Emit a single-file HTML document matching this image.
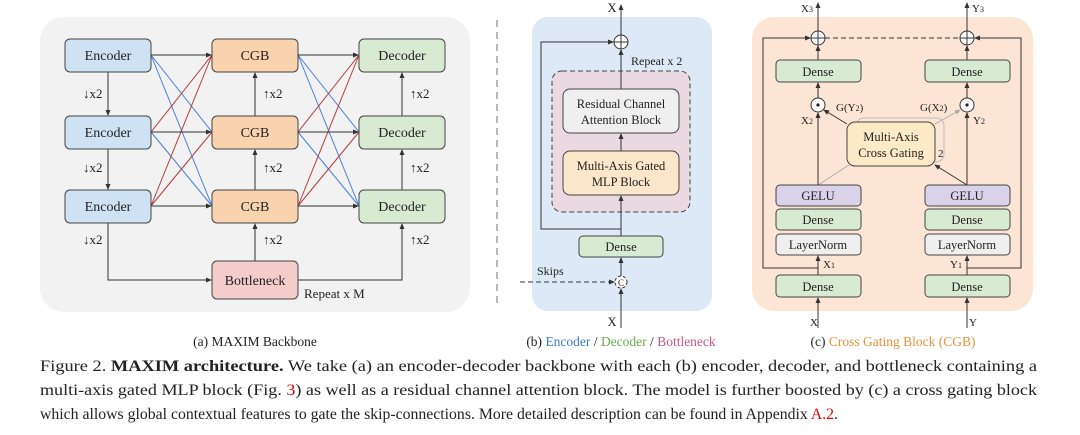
<!DOCTYPE html>
<html><head><meta charset="utf-8"><style>body{margin:0;background:#fff}svg{display:block}text{font-family:"Liberation Serif",serif;fill:#222}</style></head><body>
<svg width="1080" height="435" viewBox="0 0 1080 435" xmlns="http://www.w3.org/2000/svg">
<defs>
<marker id="a" markerWidth="6" markerHeight="6" refX="5" refY="3" orient="auto" markerUnits="userSpaceOnUse"><path d="M0,0.5 L6,3 L0,5.5z" fill="#333"/></marker>
<marker id="g" markerWidth="6" markerHeight="6" refX="5" refY="3" orient="auto" markerUnits="userSpaceOnUse"><path d="M0,0.5 L6,3 L0,5.5z" fill="#aaa"/></marker>
</defs>
<rect x="40" y="17" width="430" height="295" rx="24" fill="#f2f2f2"/>
<g stroke-width="1" fill="none">
<g stroke="#4a7fe0">
<line x1="151" y1="55" x2="212" y2="132"/><line x1="151" y1="55" x2="212" y2="206"/><line x1="151" y1="132" x2="212" y2="206"/>
<line x1="298" y1="55" x2="359" y2="132"/><line x1="298" y1="55" x2="359" y2="206"/><line x1="298" y1="132" x2="359" y2="206"/>
</g>
<g stroke="#b83a3a">
<line x1="151" y1="132" x2="212" y2="55"/><line x1="151" y1="206" x2="212" y2="55"/><line x1="151" y1="206" x2="212" y2="132"/>
<line x1="298" y1="132" x2="359" y2="55"/><line x1="298" y1="206" x2="359" y2="55"/><line x1="298" y1="206" x2="359" y2="132"/>
</g>
<g stroke="#333" marker-end="url(#a)">
<line x1="151" y1="55" x2="211" y2="55"/><line x1="151" y1="132" x2="211" y2="132"/><line x1="151" y1="206" x2="211" y2="206"/>
<line x1="298" y1="55" x2="358" y2="55"/><line x1="298" y1="132" x2="358" y2="132"/><line x1="298" y1="206" x2="358" y2="206"/>
<line x1="108" y1="72" x2="108" y2="115"/><line x1="108" y1="149" x2="108" y2="189"/>
<polyline points="108,223 108,280 211,280"/>
<line x1="255" y1="116" x2="255" y2="73"/><line x1="255" y1="190" x2="255" y2="150"/><line x1="255" y1="261" x2="255" y2="224"/>
<line x1="402" y1="116" x2="402" y2="73"/><line x1="402" y1="190" x2="402" y2="150"/>
<polyline points="298,280 402,280 402,224"/>
</g>
</g>
<g stroke="#444" stroke-width="1">
<rect x="65" y="39" width="86" height="33" rx="5" fill="#cfe2f3"/><rect x="65" y="116" width="86" height="33" rx="5" fill="#cfe2f3"/><rect x="65" y="190" width="86" height="33" rx="5" fill="#cfe2f3"/>
<rect x="212" y="39" width="86" height="33" rx="5" fill="#f8d3ad"/><rect x="212" y="116" width="86" height="33" rx="5" fill="#f8d3ad"/><rect x="212" y="190" width="86" height="33" rx="5" fill="#f8d3ad"/>
<rect x="359" y="39" width="86" height="33" rx="5" fill="#d9ead3"/><rect x="359" y="116" width="86" height="33" rx="5" fill="#d9ead3"/><rect x="359" y="190" width="86" height="33" rx="5" fill="#d9ead3"/>
<rect x="212" y="261" width="86" height="38" rx="5" fill="#f4cccc"/>
</g>
<g font-size="14" text-anchor="middle">
<text x="108" y="60">Encoder</text><text x="108" y="137">Encoder</text><text x="108" y="211">Encoder</text>
<text x="255" y="60">CGB</text><text x="255" y="137">CGB</text><text x="255" y="211">CGB</text>
<text x="402" y="60">Decoder</text><text x="402" y="137">Decoder</text><text x="402" y="211">Decoder</text>
<text x="255" y="285">Bottleneck</text>
</g>
<g font-size="13">
<text x="83" y="98">↓x2</text><text x="83" y="172">↓x2</text><text x="83" y="244">↓x2</text>
<text x="263" y="98">↑x2</text><text x="263" y="172">↑x2</text><text x="263" y="244">↑x2</text>
<text x="410" y="98">↑x2</text><text x="410" y="172">↑x2</text><text x="410" y="244">↑x2</text>
<text x="304" y="298">Repeat x M</text>
</g>
<text x="255" y="346" font-size="13.5" text-anchor="middle" fill="#444">(a) MAXIM Backbone</text>
<line x1="497" y1="20" x2="497" y2="305" stroke="#777" stroke-dasharray="7,5"/>
<rect x="532" y="17" width="180" height="294" rx="16" fill="#dde9f6"/>
<rect x="552" y="71" width="138" height="141" rx="10" fill="#ead9e0" stroke="#444" stroke-dasharray="5,3"/>
<g stroke="#333" fill="none" marker-end="url(#a)">
<line x1="621" y1="328" x2="621" y2="289"/><line x1="621" y1="276" x2="621" y2="258"/>
<line x1="621" y1="236" x2="621" y2="196"/><line x1="621" y1="151" x2="621" y2="134"/>
<line x1="621" y1="89" x2="621" y2="50"/><line x1="621" y1="35" x2="621" y2="5"/>
<polyline points="621,229 541,229 541,42 613,42"/>
<line x1="520" y1="282" x2="614" y2="282" stroke-dasharray="5,3"/>
</g>
<circle cx="621" cy="42" r="7" fill="#fff" stroke="#333"/><path d="M614,42h14M621,35v14" stroke="#333"/>
<circle cx="621" cy="282" r="6" fill="#fff" stroke="#333" stroke-dasharray="3,2"/>
<text x="621" y="286" font-size="9" text-anchor="middle">C</text>
<rect x="563" y="89" width="116" height="44" rx="7" fill="#efefef" stroke="#444"/>
<rect x="563" y="151" width="116" height="44" rx="7" fill="#fbe6c9" stroke="#444"/>
<rect x="579" y="236" width="84" height="21" rx="4" fill="#d9ead3" stroke="#444"/>
<g font-size="12.5" text-anchor="middle">
<text x="621" y="108">Residual Channel</text><text x="621" y="124">Attention Block</text>
<text x="621" y="170">Multi-Axis Gated</text><text x="621" y="186">MLP Block</text>
<text x="621" y="251">Dense</text>
<text x="612" y="12">X</text><text x="612" y="326">X</text>
</g>
<text x="631" y="65" font-size="12">Repeat x 2</text>
<text x="537" y="275" font-size="12">Skips</text>
<text x="621" y="346" font-size="13.5" text-anchor="middle" fill="#444">(b) <tspan fill="#3b78c4">Encoder</tspan> / <tspan fill="#6aa84f">Decoder</tspan> / <tspan fill="#c2578a">Bottleneck</tspan></text>
<rect x="752" y="17" width="281" height="294" rx="22" fill="#fce5d4"/>
<g stroke="#333" fill="none" marker-end="url(#a)">
<line x1="818" y1="328" x2="818" y2="298"/><line x1="967" y1="328" x2="967" y2="298"/>
<line x1="818" y1="275" x2="818" y2="256"/><line x1="967" y1="275" x2="967" y2="256"/>
<polyline points="818,268 763,268 763,38 810,38"/><polyline points="967,268 1021,268 1021,38 975,38"/>
<line x1="818" y1="185" x2="818" y2="113"/><line x1="967" y1="185" x2="967" y2="113"/>
<line x1="818" y1="98" x2="818" y2="83"/><line x1="967" y1="98" x2="967" y2="83"/>
<line x1="818" y1="60" x2="818" y2="46"/><line x1="967" y1="60" x2="967" y2="46"/>
<line x1="818" y1="31" x2="818" y2="3"/><line x1="967" y1="31" x2="967" y2="3"/>
<line x1="967" y1="185" x2="935" y2="165"/><line x1="847" y1="124" x2="824" y2="110"/>
</g>
<line x1="825" y1="38" x2="960" y2="38" stroke="#333" stroke-dasharray="5,3"/>
<line x1="818" y1="185" x2="849" y2="165" stroke="#aaa"/>
<line x1="935" y1="124" x2="960" y2="110" stroke="#aaa" marker-end="url(#g)"/>
<rect x="856" y="118" width="88" height="44" rx="8" fill="none" stroke="#bbb"/>
<rect x="847" y="122" width="88" height="44" rx="8" fill="#fdebc8" stroke="#444"/>
<g fill="#fff" stroke="#333">
<circle cx="818" cy="38" r="7"/><circle cx="967" cy="38" r="7"/><circle cx="818" cy="105" r="7"/><circle cx="967" cy="105" r="7"/>
</g>
<path d="M811,38h14M818,31v14M960,38h14M967,31v14" stroke="#333"/>
<circle cx="818" cy="105" r="1.6" fill="#222"/><circle cx="967" cy="105" r="1.6" fill="#222"/>
<g stroke="#444">
<rect x="776" y="60" width="85" height="22" rx="4" fill="#d9ead3"/><rect x="925" y="60" width="85" height="22" rx="4" fill="#d9ead3"/>
<rect x="776" y="185" width="85" height="21" rx="4" fill="#d9d2e9"/><rect x="925" y="185" width="85" height="21" rx="4" fill="#d9d2e9"/>
<rect x="776" y="209" width="85" height="21" rx="4" fill="#d9ead3"/><rect x="925" y="209" width="85" height="21" rx="4" fill="#d9ead3"/>
<rect x="776" y="234" width="85" height="21" rx="4" fill="#efefef"/><rect x="925" y="234" width="85" height="21" rx="4" fill="#efefef"/>
<rect x="776" y="275" width="85" height="22" rx="4" fill="#d9ead3"/><rect x="925" y="275" width="85" height="22" rx="4" fill="#d9ead3"/>
</g>
<g font-size="12.5" text-anchor="middle">
<text x="818" y="76">Dense</text><text x="967" y="76">Dense</text>
<text x="818" y="200">GELU</text><text x="967" y="200">GELU</text>
<text x="818" y="224">Dense</text><text x="967" y="224">Dense</text>
<text x="818" y="249">LayerNorm</text><text x="967" y="249">LayerNorm</text>
<text x="818" y="291">Dense</text><text x="967" y="291">Dense</text>
<text x="891" y="141">Multi-Axis</text><text x="891" y="157">Cross Gating</text>
</g>
<g font-size="11">
<text x="801" y="12">X<tspan font-size="8">3</tspan></text><text x="972" y="12">Y<tspan font-size="8">3</tspan></text>
<text x="836" y="111">G(Y<tspan font-size="8">2</tspan>)</text><text x="920" y="111" fill="#999">G(X<tspan font-size="8">2</tspan>)</text>
<text x="801" y="124">X<tspan font-size="8">2</tspan></text><text x="973" y="124">Y<tspan font-size="8">2</tspan></text>
<text x="823" y="268">X<tspan font-size="8">1</tspan></text><text x="950" y="268">Y<tspan font-size="8">1</tspan></text>
<text x="810" y="326">X</text><text x="969" y="326">Y</text>
<text x="938" y="157">2</text>
</g>
<text x="893" y="346" font-size="13.5" text-anchor="middle" fill="#444">(c) <tspan fill="#e69138">Cross Gating Block (CGB)</tspan></text>
<g font-size="16">
<text x="40" y="371" textLength="997" lengthAdjust="spacingAndGlyphs">Figure 2. <tspan font-weight="bold">MAXIM architecture.</tspan> We take (a) an encoder-decoder backbone with each (b) encoder, decoder, and bottleneck containing a</text>
<text x="40" y="395" textLength="997" lengthAdjust="spacingAndGlyphs">multi-axis gated MLP block (Fig. <tspan fill="#d00">3</tspan>) as well as a residual channel attention block. The model is further boosted by (c) a cross gating block</text>
<text x="40" y="419" textLength="798" lengthAdjust="spacingAndGlyphs">which allows global contextual features to gate the skip-connections. More detailed description can be found in Appendix <tspan fill="#d00">A.2</tspan>.</text>
</g>
</svg>
</body></html>
